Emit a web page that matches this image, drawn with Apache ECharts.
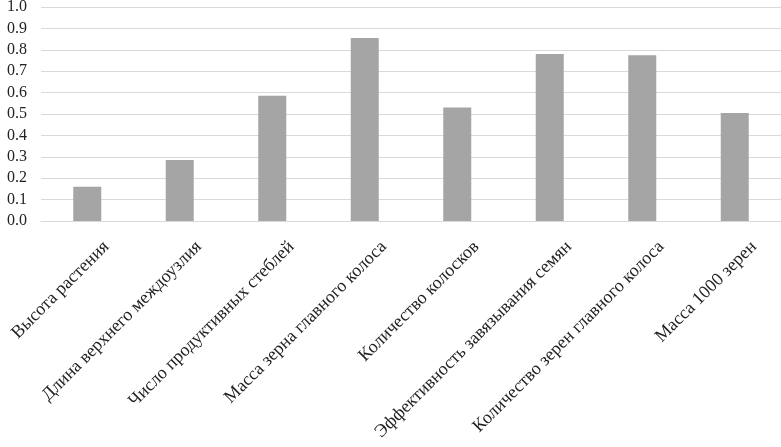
<!DOCTYPE html>
<html>
<head>
<meta charset="utf-8">
<script src="https://cdn.jsdelivr.net/npm/echarts@6/dist/echarts.min.js"></script>
<style>
  html, body { margin: 0; padding: 0; background: #fff; }
  #chart { width: 781px; height: 447px; }
</style>
</head>
<body>
<div id="chart"></div>
<script>
var categories = [
  "Высота растения",
  "Длина верхнего междоузлия",
  "Число продуктивных стеблей",
  "Масса зерна главного колоса",
  "Количество колосков",
  "Эффективность завязывания семян",
  "Количество зерен главного колоса",
  "Масса 1000 зерен"
];
var values = [0.16, 0.285, 0.585, 0.855, 0.53, 0.78, 0.775, 0.505];
var yMin = 0, yMax = 1, yStep = 0.1;

var chart = echarts.init(document.getElementById("chart"));
chart.setOption({
  backgroundColor: "#fff",
  animation: false,
  grid: { left: 41, right: 0, top: 7, bottom: 226, containLabel: false, outerBoundsMode: "none" },
  xAxis: {
    type: "category",
    data: categories,
    axisTick: { show: false },
    axisLine: { lineStyle: { color: "#d9d9d9", width: 1 } },
    axisLabel: {
      interval: 0,
      rotate: 45,
      margin: 4,
      lineHeight: 18,
      color: "#222",
      fontFamily: "Liberation Serif",
      fontSize: 18,
      // empty lines above push the rotated text down-right, like the original
      formatter: function (v) { return "\n\n\n" + v; }
    }
  },
  yAxis: {
    type: "value",
    min: yMin,
    max: yMax,
    interval: yStep,
    axisLine: { show: false },
    axisTick: { show: false },
    splitLine: { lineStyle: { color: "#d9d9d9", width: 1 } },
    axisLabel: {
      margin: 14,
      color: "#222",
      fontFamily: "Liberation Serif",
      fontSize: 16,
      formatter: function (v) { return v.toFixed(1); }
    }
  },
  series: [{
    type: "bar",
    data: values,
    barWidth: 28,
    itemStyle: { color: "#a5a5a5" }
  }]
});
</script>
</body>
</html>
